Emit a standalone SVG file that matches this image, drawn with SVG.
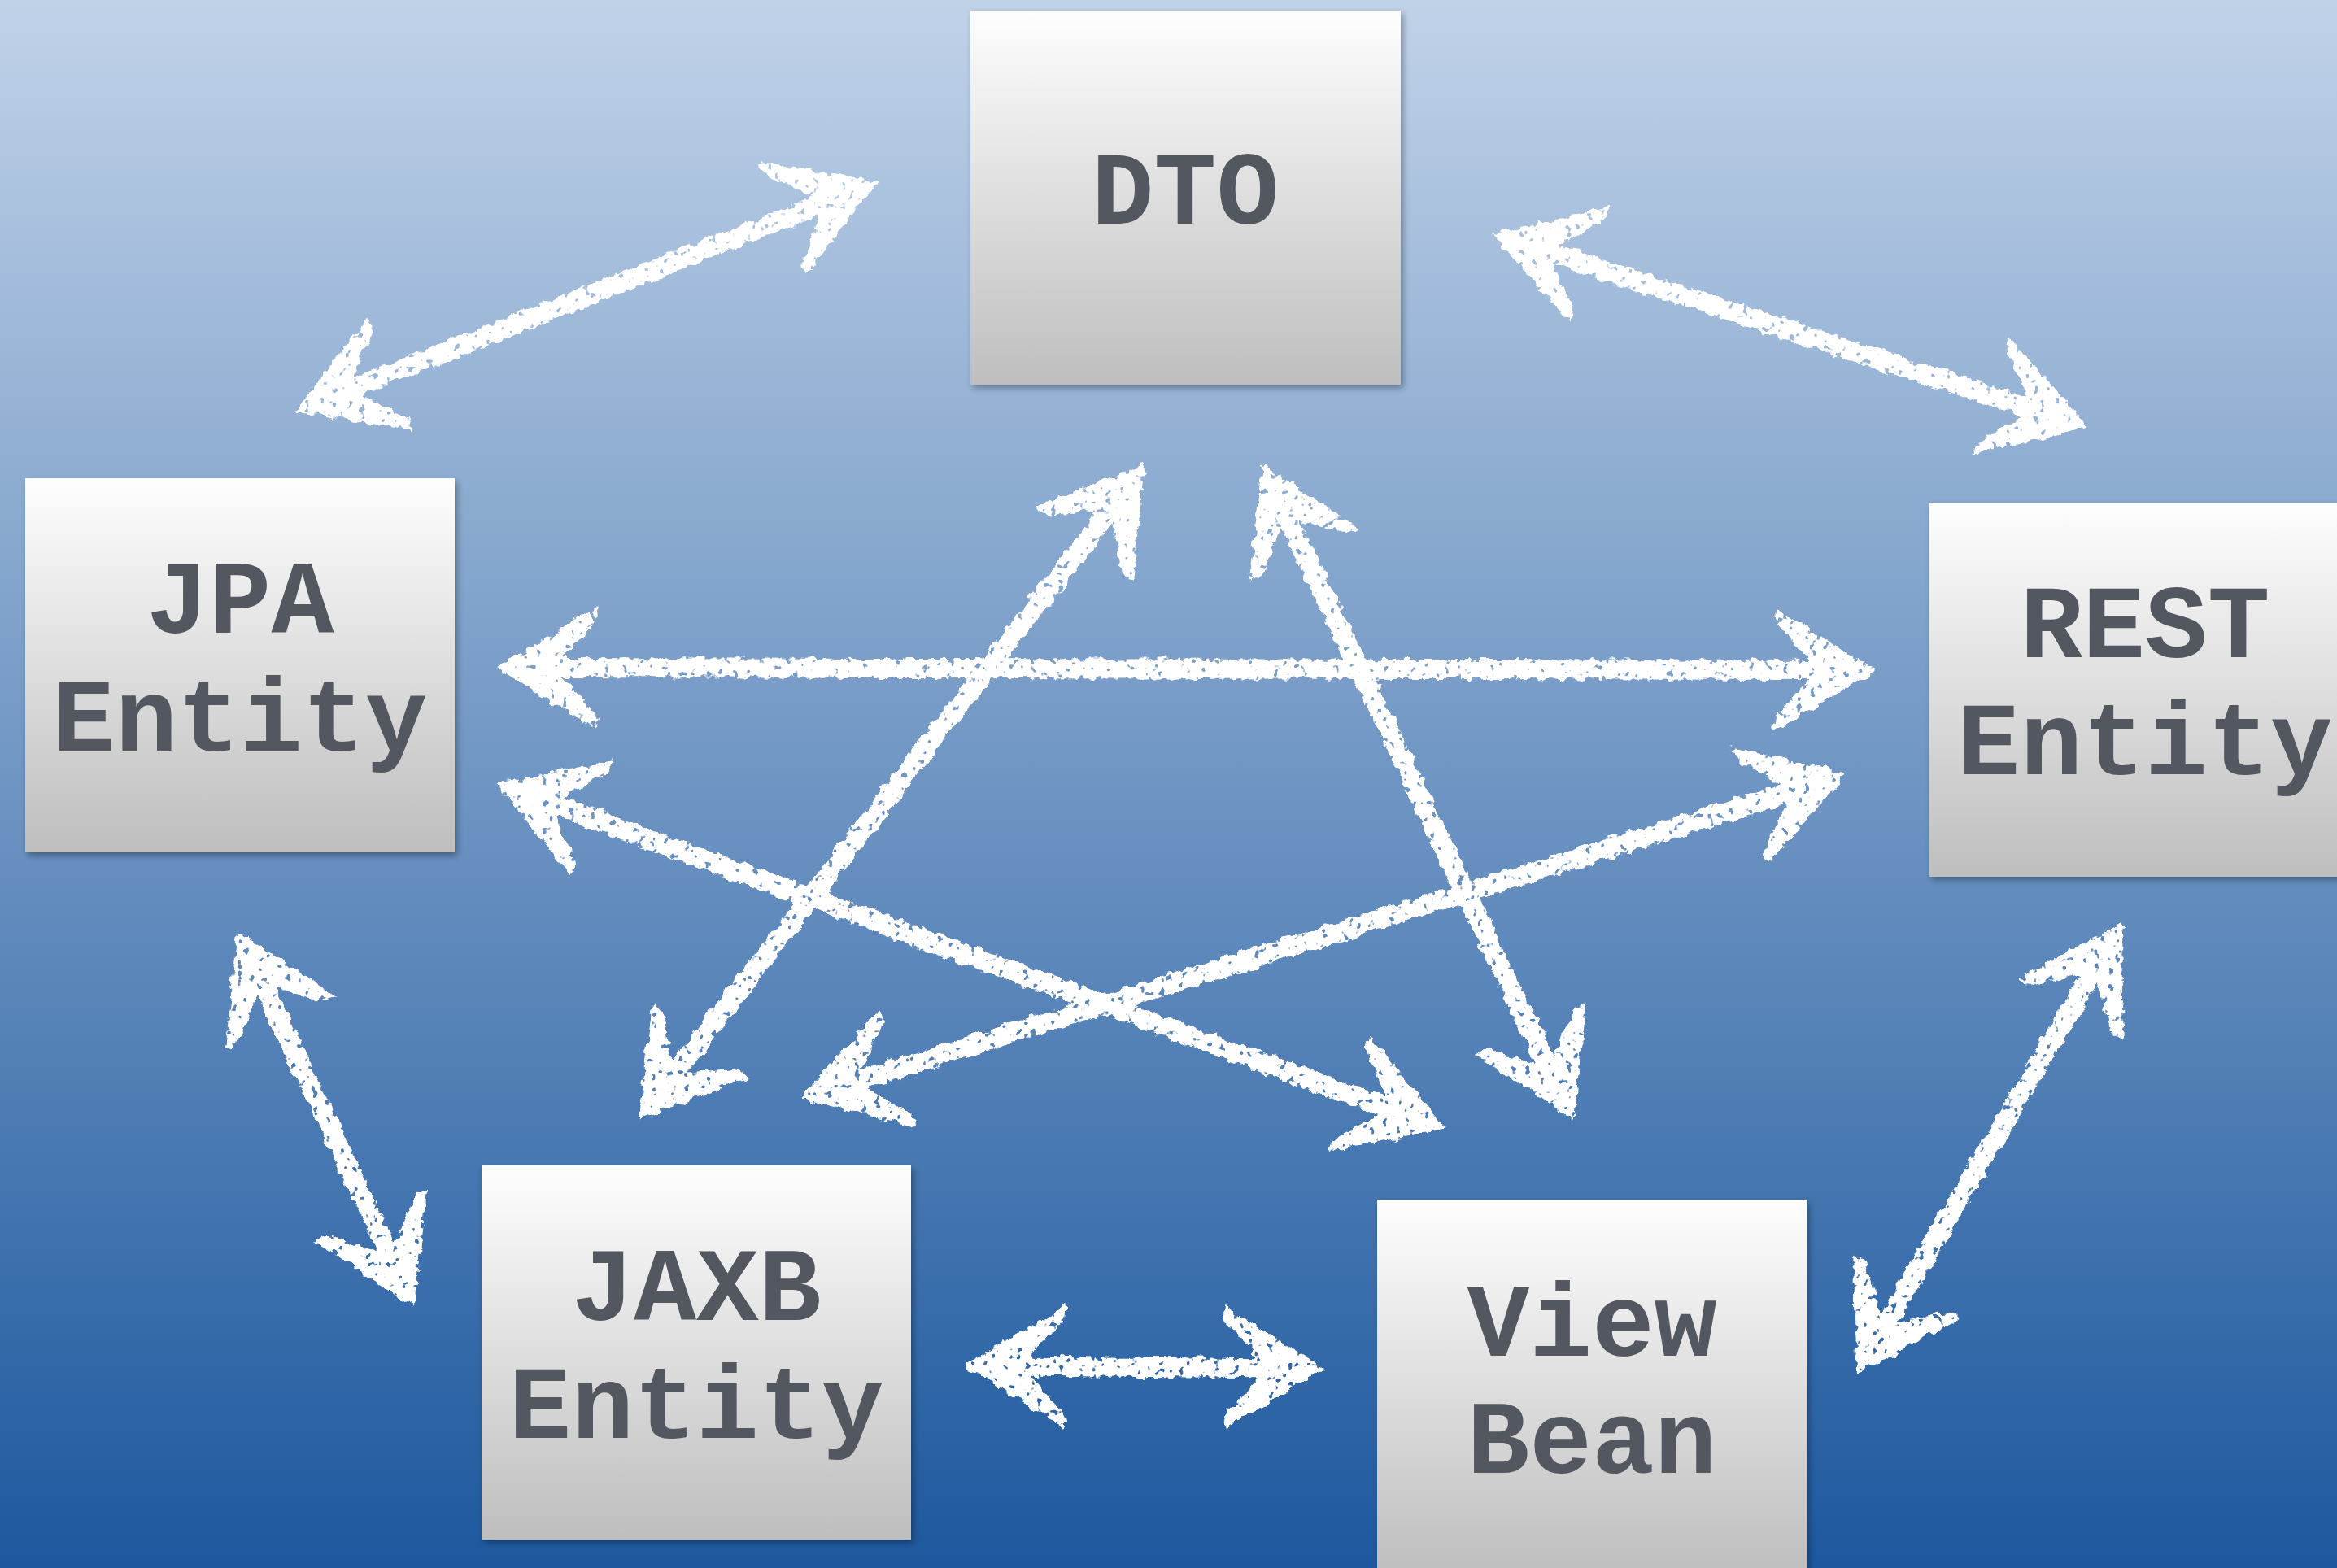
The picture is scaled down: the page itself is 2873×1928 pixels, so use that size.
<svg xmlns="http://www.w3.org/2000/svg" width="2873" height="1928" viewBox="0 0 2873 1928">
<defs>
  <linearGradient id="bg" x1="0" y1="0" x2="0" y2="1">
    <stop offset="0" stop-color="#c0d2e8"/>
    <stop offset="1" stop-color="#1d589e"/>
  </linearGradient>
  <linearGradient id="box" x1="0" y1="0" x2="0" y2="1">
    <stop offset="0" stop-color="#fefefe"/>
    <stop offset="1" stop-color="#bebebe"/>
  </linearGradient>
  <filter id="shadow" x="-5%" y="-5%" width="112%" height="112%">
    <feGaussianBlur in="SourceAlpha" stdDeviation="4"/>
    <feOffset dx="3" dy="4" result="b"/>
    <feComponentTransfer><feFuncA type="linear" slope="0.35"/></feComponentTransfer>
    <feMerge><feMergeNode/><feMergeNode in="SourceGraphic"/></feMerge>
  </filter>
  <filter id="chalk" filterUnits="userSpaceOnUse" x="0" y="0" width="2873" height="1928">
    <feTurbulence type="fractalNoise" baseFrequency="0.08" numOctaves="3" seed="4" result="n"/>
    <feDisplacementMap in="SourceGraphic" in2="n" scale="12" xChannelSelector="R" yChannelSelector="G" result="d"/>
    <feTurbulence type="fractalNoise" baseFrequency="0.12" numOctaves="2" seed="9" result="n2"/>
    <feColorMatrix in="n2" type="matrix" values="0 0 0 0 1  0 0 0 0 1  0 0 0 0 1  -14 0 0 0 10.1" result="holes"/>
    <feComposite in="d" in2="holes" operator="in"/>
  </filter>
  <marker id="head" markerUnits="userSpaceOnUse" viewBox="0 0 180 170" markerWidth="180" markerHeight="170" refX="130" refY="85" orient="auto-start-reverse" overflow="visible">
    <path d="M172,85 L48,10 Q42,24 58,37 L90,72 L90,98 L58,133 Q42,146 48,160 Z" fill="#ffffff"/>
  </marker>
  <style>
    .node rect { fill: url(#box); filter: url(#shadow); }
    .node text { font-family: "Courier New", "Nimbus Mono PS", "Nimbus Mono L", "FreeMono", "Liberation Mono", monospace; font-weight: bold; font-size: 128px; fill: #535860; text-anchor: middle; }
    .conn line { stroke: #ffffff; stroke-width: 24; stroke-linecap: round; marker-start: url(#head); marker-end: url(#head); }
  </style>
</defs>
<rect x="0" y="0" width="2873" height="1928" fill="url(#bg)"/>
<g id="connectors" class="conn" filter="url(#chalk)">
  <line id="dto-jpa" x1="403.2" y1="489.3" x2="1039.8" y2="238.7"/>
  <line id="dto-rest" x1="1875" y1="300.4" x2="2527" y2="512.6"/>
  <line id="jpa-rest" x1="652" y1="821.1" x2="2264" y2="823.9"/>
  <line id="jpa-view" x1="649.6" y1="977.7" x2="1736.4" y2="1373.3"/>
  <line id="jaxb-rest" x1="1024.2" y1="1338.2" x2="2229.8" y2="964.8"/>
  <line id="jaxb-dto" x1="811.4" y1="1343.3" x2="1382.6" y2="603.7"/>
  <line id="dto-view" x1="1569.2" y1="608.1" x2="1916.8" y2="1338.9"/>
  <line id="jpa-jaxb" x1="310" y1="1183.2" x2="491" y2="1568.8"/>
  <line id="jaxb-view" x1="1227" y1="1679.4" x2="1587" y2="1682.6"/>
  <line id="rest-view" x1="2587.7" y1="1170.5" x2="2302.3" y2="1654.5"/>
</g>
<g id="node-dto" class="node">
  <rect x="1193" y="13" width="529" height="460"/>
  <text x="1457" y="275">DTO</text>
</g>
<g id="node-jpa" class="node">
  <rect x="31" y="588" width="528" height="460"/>
  <text x="295" y="778">JPA</text>
  <text x="295" y="923">Entity</text>
</g>
<g id="node-rest" class="node">
  <rect x="2372" y="618" width="528" height="460"/>
  <text x="2637" y="808">REST</text>
  <text x="2637" y="952">Entity</text>
</g>
<g id="node-jaxb" class="node">
  <rect x="592" y="1433" width="528" height="460"/>
  <text x="856" y="1623">JAXB</text>
  <text x="856" y="1768">Entity</text>
</g>
<g id="node-view" class="node">
  <rect x="1693" y="1475" width="528" height="460"/>
  <text x="1957" y="1667">View</text>
  <text x="1957" y="1811">Bean</text>
</g>
</svg>
